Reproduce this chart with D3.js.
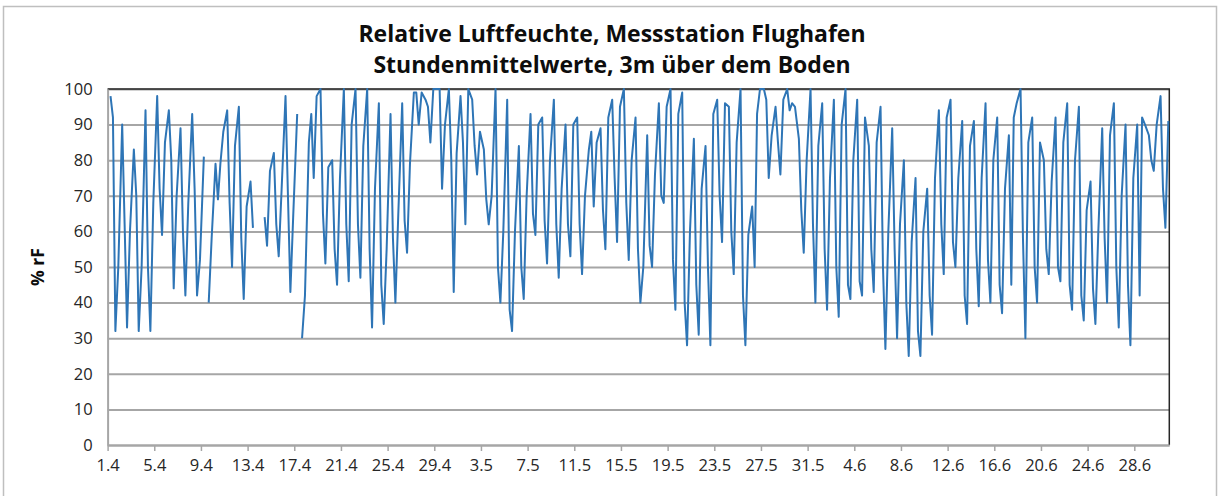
<!DOCTYPE html>
<html>
<head>
<meta charset="utf-8">
<script src="https://cdn.jsdelivr.net/npm/d3@7"></script>
<style>
  body { margin: 0; background: #fff; }
  svg { display: block; font-family: "Open Sans", sans-serif; }
</style>
</head>
<body>
<div id="chart"></div>
<script>
// hourly means, sampled at these hours of each day (06 ~ night max, 16 ~ afternoon min)
var readingHours = [6, 11, 16, 22];

// % rF per day: [06h, 11h, 16h, 22h], null = no data
var aprilRH = [
  [98, 92, 32, 50], [90, 62, 33, 60], [83, 70, 32, 50], [94, 50, 32, 68], [98, 72, 59, 85],
  [94, 80, 44, 70], [89, 60, 42, 68], [93, 72, 42, 52], [81, null, 40, 58], [79, 69, 79, 88],
  [94, 68, 50, 84], [95, 58, 41, 67], [74, 61, null, null], [null, 64, 56, 77], [82, 62, 53, 72],
  [98, 70, 43, 65], [93, null, 30, 42], [85, 93, 75, 98], [100, 65, 51, 78], [80, 55, 45, 75],
  [100, 62, 46, 90], [100, 62, 47, 84], [100, 55, 33, 72], [96, 45, 34, 55], [93, 58, 40, 65],
  [96, 63, 54, 79], [99, 99, 90, 99], [97, 95, 85, 100], [100, 100, 72, 90], [100, 80, 43, 82]
];
var mayRH = [
  [98, 85, 62, 100], [97, 84, 76, 88], [83, 69, 62, 70], [100, 50, 40, 60], [97, 38, 32, 60],
  [84, 50, 41, 70], [93, 65, 59, 90], [92, 63, 51, 80], [97, 62, 47, 72], [90, 62, 53, 90],
  [92, 62, 48, 70], [83, 88, 67, 85], [89, 66, 55, 92], [97, 75, 57, 95], [100, 68, 52, 80],
  [92, 55, 40, 50], [87, 56, 50, 76], [96, 70, 68, 95], [100, 52, 38, 93], [99, 40, 28, 60],
  [86, 45, 31, 72], [84, 50, 28, 93], [97, 70, 57, 96], [95, 60, 48, 85], [100, 42, 28, 59],
  [67, 50, 93, 100], [100, 97, 75, 87], [95, 85, 76, 97], [100, 94, 96, 95], [86, 66, 54, 80],
  [100, 62, 40, 84]
];
var juneRH = [
  [96, 55, 38, 75], [97, 50, 36, 90], [100, 45, 41, 80], [97, 46, 42, 92], [84, 55, 43, 85],
  [95, 50, 27, 60], [89, 55, 30, 62], [80, 40, 25, 57], [75, 32, 25, 60], [72, 42, 31, 75],
  [94, 62, 48, 92], [97, 57, 50, 75], [91, 42, 34, 84], [91, 55, 39, 75], [96, 52, 40, 80],
  [92, 45, 37, 72], [87, 45, 92, 96], [100, 58, 30, 85], [92, 50, 40, 85], [80, 55, 48, 74],
  [92, 50, 46, 85], [96, 45, 38, 80], [95, 42, 35, 66], [74, 44, 34, 60], [89, 58, 40, 87],
  [96, 50, 33, 70], [90, 45, 28, 75], [90, 42, 92, 90], [87, 80, 77, 90], [98, 72, 61, 91]
];

var tickLabels = ["1.4", "5.4", "9.4", "13.4", "17.4", "21.4", "25.4", "29.4", "3.5", "7.5",
  "11.5", "15.5", "19.5", "23.5", "27.5", "31.5", "4.6", "8.6", "12.6", "16.6", "20.6", "24.6", "28.6"];
var tickEveryDays = 4;
var yTicks = [0, 10, 20, 30, 40, 50, 60, 70, 80, 90, 100];

var titleLines = ["Relative Luftfeuchte, Messstation Flughafen", "Stundenmittelwerte, 3m über dem Boden"];
var yTitle = "% rF";

// flatten into hour-indexed points
var days = aprilRH.concat(mayRH, juneRH);
var data = [];
days.forEach(function(row, i){
  row.forEach(function(v, j){
    data.push({t: i * 24 + readingHours[j], v: v});
  });
});

var width = 1221, height = 496;
var margin = {left: 107.6, right: 1169.3, top: 89, bottom: 445};

var svg = d3.select('#chart').append('svg')
  .attr('width', width)
  .attr('height', height);

// chart frame
svg.append('rect')
  .attr('x', 3.5).attr('y', 6.5)
  .attr('width', 1213).attr('height', 500)
  .attr('fill', '#fff')
  .attr('stroke', '#bfbfbf')
  .attr('stroke-width', 1.5);

var x = d3.scaleLinear().domain([0, days.length * 24]).range([margin.left, margin.right]);
var y = d3.scaleLinear().domain([0, 100]).range([margin.bottom, margin.top]);

// gridlines
var grid = svg.append('g')
  .attr('transform', 'translate(' + margin.left + ',0)')
  .call(d3.axisLeft(y).tickValues(yTicks).tickSize(-(margin.right - margin.left)).tickFormat(''));
grid.select('.domain').remove();
grid.selectAll('line').attr('stroke', '#a6a6a6').attr('stroke-width', 2);

// plot border top/right
svg.append('path')
  .attr('d', 'M' + margin.left + ',' + margin.top + 'H' + margin.right + 'V' + margin.bottom)
  .attr('fill', 'none')
  .attr('stroke', '#262626')
  .attr('stroke-width', 1.5);

// y axis labels
var yAxis = svg.append('g')
  .attr('transform', 'translate(' + margin.left + ',0)')
  .call(d3.axisLeft(y).tickValues(yTicks).tickSize(0).tickPadding(15));
yAxis.select('.domain').attr('stroke', '#a6a6a6').attr('stroke-width', 2);
yAxis.selectAll('text')
  .attr('font-size', 16.5)
  .attr('font-family', '"Open Sans", sans-serif')
  .attr('fill', '#262626');

// x axis
var xTickValues = tickLabels.map(function(d, i){ return i * tickEveryDays * 24; });
var xAxis = svg.append('g')
  .attr('transform', 'translate(0,' + margin.bottom + ')')
  .call(d3.axisBottom(x).tickValues(xTickValues)
    .tickFormat(function(d, i){ return tickLabels[i]; })
    .tickSize(6).tickSizeOuter(0).tickPadding(8));
xAxis.select('.domain').attr('stroke', '#a6a6a6').attr('stroke-width', 2);
xAxis.selectAll('line').attr('stroke', '#a6a6a6').attr('stroke-width', 1.5);
xAxis.selectAll('text')
  .attr('font-size', 16.5)
  .attr('font-family', '"Open Sans", sans-serif')
  .attr('fill', '#262626');

// series
var line = d3.line()
  .defined(function(d){ return d.v != null; })
  .x(function(d){ return x(d.t); })
  .y(function(d){ return y(d.v); });

svg.append('path')
  .datum(data)
  .attr('d', line)
  .attr('fill', 'none')
  .attr('stroke', '#2e75b6')
  .attr('stroke-width', 2)
  .attr('stroke-linejoin', 'round');

// titles
svg.selectAll('.title')
  .data(titleLines)
  .enter().append('text')
  .attr('class', 'title')
  .attr('x', 612)
  .attr('y', function(d, i){ return 42 + i * 31; })
  .attr('text-anchor', 'middle')
  .attr('font-size', 23)
  .attr('font-weight', 700)
  .attr('fill', '#0d0d0d')
  .text(function(d){ return d; });

svg.append('text')
  .attr('transform', 'translate(44,' + y(50) + ') rotate(-90)')
  .attr('text-anchor', 'middle')
  .attr('font-size', 17.5)
  .attr('font-weight', 700)
  .attr('fill', '#0d0d0d')
  .text(yTitle);
</script>
</body>
</html>
